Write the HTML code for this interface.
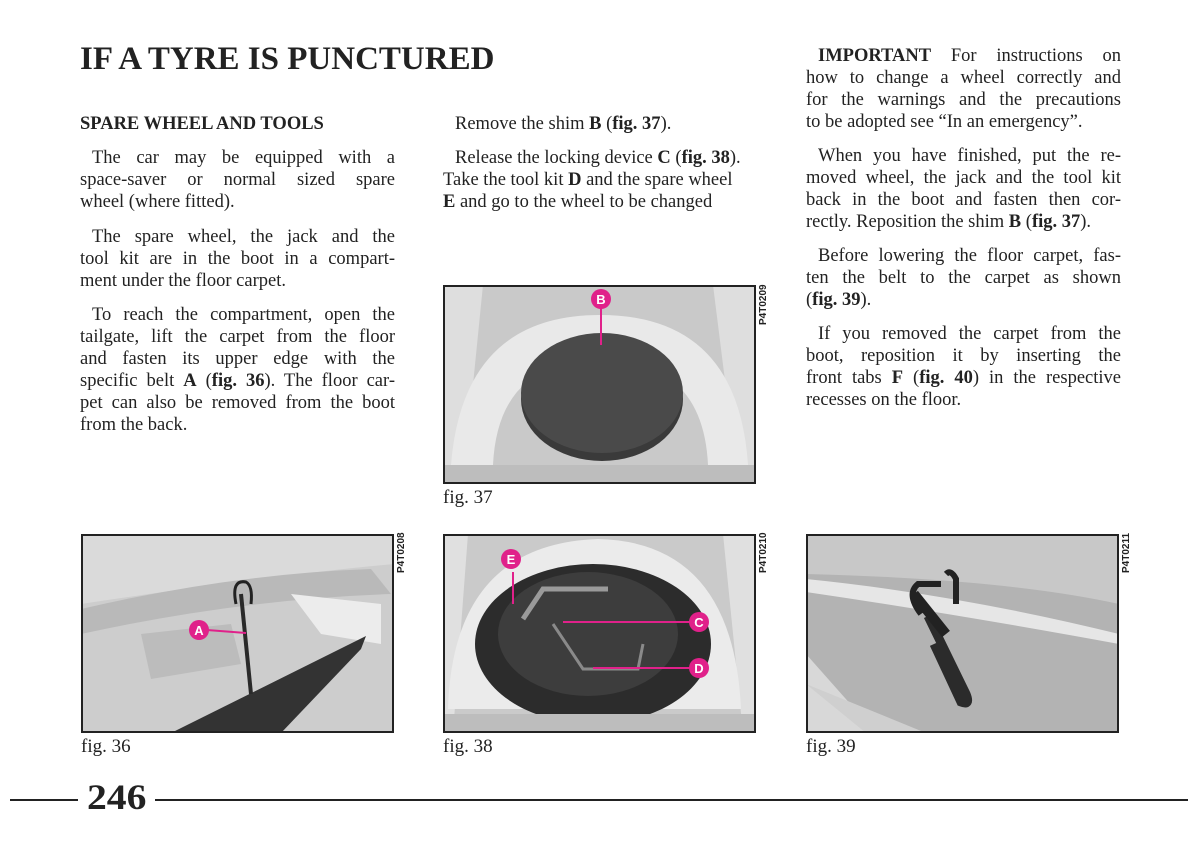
<!DOCTYPE html>
<html><head><meta charset="utf-8"><style>
body{margin:0;width:1200px;height:845px;background:#fff;position:relative;overflow:hidden;font-family:"Liberation Serif",serif;color:#222}
.l{position:absolute;font-size:18.5px;line-height:22px;white-space:nowrap;height:22px;box-sizing:border-box}
.j{text-align:justify;text-align-last:justify;white-space:normal}
.i{padding-left:12px}
.ph{position:absolute;width:313px;height:199px}
.code{position:absolute;font-family:"Liberation Sans",sans-serif;font-size:10px;font-weight:bold;transform:rotate(-90deg);transform-origin:left top;color:#222}
.cap{position:absolute;font-size:19px}
</style></head><body>
<div style="position:absolute;left:80px;top:41px;font-size:33px;font-weight:bold">IF A TYRE IS PUNCTURED</div>

<div class="l" style="left:80px;top:113px;width:315px;font-weight:bold">SPARE WHEEL AND TOOLS</div>
<div class="l j i" style="left:80px;top:147px;width:315px">The car may be equipped with a</div>
<div class="l j" style="left:80px;top:169px;width:315px">space-saver or normal sized spare</div>
<div class="l" style="left:80px;top:191px">wheel (where fitted).</div>
<div class="l j i" style="left:80px;top:226px;width:315px">The spare wheel, the jack and the</div>
<div class="l j" style="left:80px;top:248px;width:315px">tool kit are in the boot in a compart-</div>
<div class="l" style="left:80px;top:270px">ment under the floor carpet.</div>
<div class="l j i" style="left:80px;top:304px;width:315px">To reach the compartment, open the</div>
<div class="l j" style="left:80px;top:326px;width:315px">tailgate, lift the carpet from the floor</div>
<div class="l j" style="left:80px;top:348px;width:315px">and fasten its upper edge with the</div>
<div class="l j" style="left:80px;top:370px;width:315px">specific belt <b>A</b> (<b>fig. 36</b>). The floor car-</div>
<div class="l j" style="left:80px;top:392px;width:315px">pet can also be removed from the boot</div>
<div class="l" style="left:80px;top:414px">from the back.</div>

<div class="l" style="left:455px;top:113px">Remove the shim <b>B</b> (<b>fig. 37</b>).</div>
<div class="l" style="left:455px;top:147px">Release the locking device <b>C</b> (<b>fig. 38</b>).</div>
<div class="l" style="left:443px;top:169px">Take the tool kit <b>D</b> and the spare wheel</div>
<div class="l" style="left:443px;top:191px"><b>E</b> and go to the wheel to be changed</div>

<div class="l j i" style="left:806px;top:45px;width:315px"><b>IMPORTANT</b> For instructions on</div>
<div class="l j" style="left:806px;top:67px;width:315px">how to change a wheel correctly and</div>
<div class="l j" style="left:806px;top:89px;width:315px">for the warnings and the precautions</div>
<div class="l" style="left:806px;top:111px">to be adopted see “In an emergency”.</div>
<div class="l j i" style="left:806px;top:145px;width:315px">When you have finished, put the re-</div>
<div class="l j" style="left:806px;top:167px;width:315px">moved wheel, the jack and the tool kit</div>
<div class="l j" style="left:806px;top:189px;width:315px">back in the boot and fasten then cor-</div>
<div class="l" style="left:806px;top:211px">rectly. Reposition the shim <b>B</b> (<b>fig. 37</b>).</div>
<div class="l j i" style="left:806px;top:245px;width:315px">Before lowering the floor carpet, fas-</div>
<div class="l j" style="left:806px;top:267px;width:315px">ten the belt to the carpet as shown</div>
<div class="l" style="left:806px;top:289px">(<b>fig. 39</b>).</div>
<div class="l j i" style="left:806px;top:323px;width:315px">If you removed the carpet from the</div>
<div class="l j" style="left:806px;top:345px;width:315px">boot, reposition it by inserting the</div>
<div class="l j" style="left:806px;top:367px;width:315px">front tabs <b>F</b> (<b>fig. 40</b>) in the respective</div>
<div class="l" style="left:806px;top:389px">recesses on the floor.</div>

<!-- fig 37 -->
<svg class="ph" style="left:443px;top:285px" viewBox="0 0 313 199">
<rect width="313" height="199" fill="#c9c9c9"/>
<path d="M0 0 L40 0 L20 199 L0 199Z" fill="#dedede"/>
<path d="M313 0 L270 0 L295 199 L313 199Z" fill="#dedede"/>
<path d="M8 180 Q20 30 157 30 Q295 30 305 180 L265 180 Q260 75 157 75 Q55 75 50 180Z" fill="#e9e9e9"/>
<ellipse cx="159" cy="114" rx="81" ry="62" fill="#3a3a3a"/>
<ellipse cx="159" cy="108" rx="81" ry="60" fill="#4a4a4a"/>
<rect x="0" y="180" width="313" height="19" fill="#bdbdbd"/>
<line x1="158" y1="22" x2="158" y2="60" stroke="#e0218a" stroke-width="2"/>
<circle cx="158" cy="14" r="10" fill="#e0218a"/>
<text x="158" y="19" font-family="Liberation Sans" font-weight="bold" font-size="13" fill="#fff" text-anchor="middle">B</text>
<rect x="1" y="1" width="311" height="197" fill="none" stroke="#222" stroke-width="2"/>
</svg>
<div class="code" style="left:758px;top:325px">P4T0209</div>
<div class="cap" style="left:443px;top:487px">fig. 37</div>

<!-- fig 36 -->
<svg class="ph" style="left:81px;top:534px" viewBox="0 0 313 199">
<rect width="313" height="199" fill="#cdcdcd"/>
<path d="M0 0 H313 V30 Q200 40 0 70Z" fill="#dadada"/>
<path d="M0 75 Q150 40 290 35 L310 60 Q160 65 0 100Z" fill="#b9b9b9"/>
<path d="M210 60 L300 70 L300 110 L240 100Z" fill="#ececec"/>
<path d="M60 100 L150 90 L160 130 L70 145Z" fill="#bcbcbc"/>
<path d="M90 199 L285 102 L280 115 L200 199Z" fill="#333"/>
<line x1="160" y1="60" x2="170" y2="160" stroke="#2a2a2a" stroke-width="4"/>
<path d="M155 70 Q150 45 165 48 Q172 52 170 70" fill="none" stroke="#222" stroke-width="3"/>
<line x1="126" y1="96" x2="165" y2="99" stroke="#e0218a" stroke-width="2"/>
<circle cx="118" cy="96" r="10" fill="#e0218a"/>
<text x="118" y="101" font-family="Liberation Sans" font-weight="bold" font-size="13" fill="#fff" text-anchor="middle">A</text>
<rect x="1" y="1" width="311" height="197" fill="none" stroke="#222" stroke-width="2"/>
</svg>
<div class="code" style="left:396px;top:573px">P4T0208</div>
<div class="cap" style="left:81px;top:736px">fig. 36</div>

<!-- fig 38 -->
<svg class="ph" style="left:443px;top:534px" viewBox="0 0 313 199">
<rect width="313" height="199" fill="#cacaca"/>
<path d="M0 0 L25 0 L10 199 L0 199Z" fill="#e0e0e0"/>
<path d="M313 0 L280 0 L300 199 L313 199Z" fill="#e0e0e0"/>
<path d="M5 175 Q10 10 155 5 Q290 8 298 175Z" fill="#ebebeb"/>
<ellipse cx="150" cy="110" rx="118" ry="80" fill="#2c2c2c"/>
<ellipse cx="145" cy="100" rx="90" ry="62" fill="#3d3d3d"/>
<path d="M80 85 L100 55 L165 55" fill="none" stroke="#9a9a9a" stroke-width="5"/>
<path d="M110 90 L140 135 L195 135 L200 110" fill="none" stroke="#8a8a8a" stroke-width="3"/>
<rect x="0" y="180" width="313" height="19" fill="#bdbdbd"/>
<line x1="70" y1="38" x2="70" y2="70" stroke="#e0218a" stroke-width="2"/>
<circle cx="68" cy="25" r="10" fill="#e0218a"/>
<text x="68" y="30" font-family="Liberation Sans" font-weight="bold" font-size="13" fill="#fff" text-anchor="middle">E</text>
<line x1="120" y1="88" x2="247" y2="88" stroke="#e0218a" stroke-width="2"/>
<circle cx="256" cy="88" r="10" fill="#e0218a"/>
<text x="256" y="93" font-family="Liberation Sans" font-weight="bold" font-size="13" fill="#fff" text-anchor="middle">C</text>
<line x1="150" y1="134" x2="247" y2="134" stroke="#e0218a" stroke-width="2"/>
<circle cx="256" cy="134" r="10" fill="#e0218a"/>
<text x="256" y="139" font-family="Liberation Sans" font-weight="bold" font-size="13" fill="#fff" text-anchor="middle">D</text>
<rect x="1" y="1" width="311" height="197" fill="none" stroke="#222" stroke-width="2"/>
</svg>
<div class="code" style="left:758px;top:573px">P4T0210</div>
<div class="cap" style="left:443px;top:736px">fig. 38</div>

<!-- fig 39 -->
<svg class="ph" style="left:806px;top:534px" viewBox="0 0 313 199">
<rect width="313" height="199" fill="#b3b3b3"/>
<path d="M0 0 H313 V70 Q200 45 0 40Z" fill="#c8c8c8"/>
<path d="M0 45 Q150 60 313 100 L313 110 Q150 80 0 58Z" fill="#e6e6e6"/>
<path d="M0 120 L70 199 L0 199Z" fill="#d8d8d8"/>
<path d="M0 150 L120 199 L60 199Z" fill="#cfcfcf"/>
<path d="M115 80 Q100 60 112 50 L135 50 M140 40 Q145 35 150 45 L150 70" fill="none" stroke="#222" stroke-width="6"/>
<path d="M122 82 L160 160 Q165 172 155 168 L128 110" fill="none" stroke="#2b2b2b" stroke-width="9"/>
<path d="M108 60 L140 100" stroke="#222" stroke-width="10"/>
<rect x="1" y="1" width="311" height="197" fill="none" stroke="#222" stroke-width="2"/>
</svg>
<div class="code" style="left:1121px;top:573px">P4T0211</div>
<div class="cap" style="left:806px;top:736px">fig. 39</div>

<div style="position:absolute;left:10px;top:799px;width:68px;height:2px;background:#222"></div>
<div style="position:absolute;left:87px;top:776px;font-size:36px;font-weight:bold;transform:scaleX(1.1);transform-origin:left">246</div>
<div style="position:absolute;left:155px;top:799px;width:1033px;height:2px;background:#222"></div>
</body></html>
